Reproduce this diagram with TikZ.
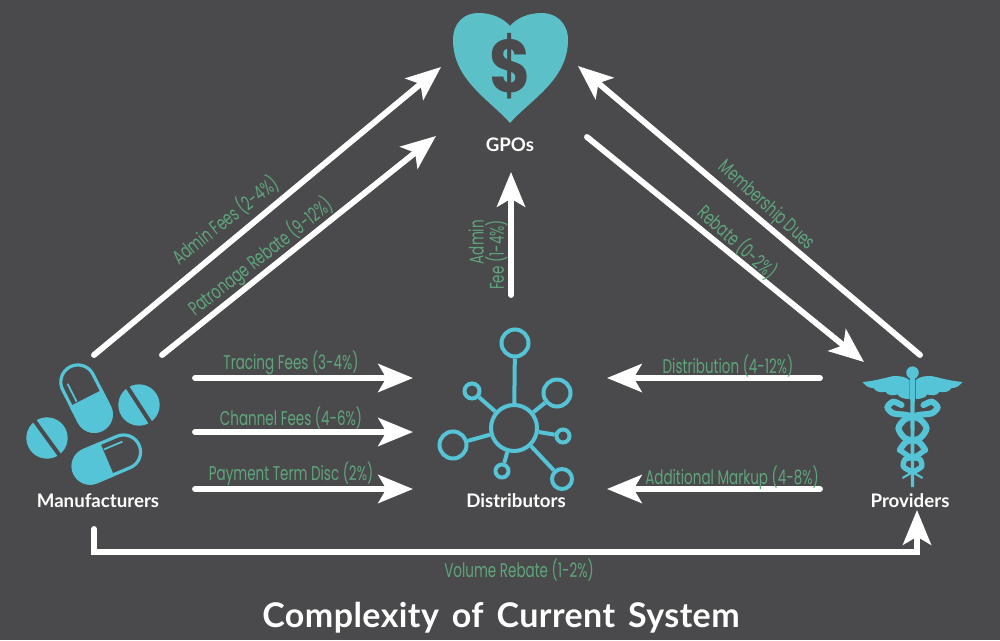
\documentclass[tikz,border=0pt]{standalone}
\usepackage{fontspec}
\setmainfont{Poppins}
\newfontfamily\headfont{Lato}
\newfontfamily\feefont[FakeStretch=0.68]{Poppins}
\newfontfamily\dollarfont[FakeStretch=0.85]{Poppins}
\newfontfamily\titlefont[LetterSpace=1.2,WordSpace=1.5]{Lato}
\usetikzlibrary{arrows.meta}
\usetikzlibrary{positioning}
\definecolor{slate}{HTML}{4A4A4C}
\definecolor{tealicon}{HTML}{55C4D6}
\definecolor{tealheart}{HTML}{5BC0C8}
\definecolor{feegreen}{HTML}{5FA57C}
\tikzstyle{flow} = [draw,white,line width=4.4pt,line cap=round,-{Stealth[length=26pt,width=21pt,inset=6pt]}]
\tikzstyle{fee} = [text=feegreen,font=\feefont\fontsize{14.9}{14}\selectfont,inner sep=0pt]
\tikzstyle{actor} = [text=white,font=\headfont\bfseries\fontsize{14}{14}\selectfont,inner sep=0pt]
\tikzstyle{hub} = [circle,draw=tealicon,line width=3pt,inner sep=0pt]
\tikzstyle{spoke} = [draw=tealicon,line width=3pt]
\newcommand{\capsule}[3]{%
  \begin{scope}[shift={(#1,#2)},rotate=#3]
    \draw[tealicon,line width=2.4pt,rounded corners=12.7pt] (-35,-17) rectangle (35,17);
    \begin{scope}
      \clip (0,-20) rectangle (40,20);
      \fill[tealicon,rounded corners=13.8pt] (-37,-18.5) rectangle (37,18.5);
    \end{scope}
    \draw[tealicon,line width=1.3pt] (-21,10) -- (-1,10);
  \end{scope}}
\newcommand{\tablet}[3]{%
  \begin{scope}[shift={(#1,#2)},rotate=#3]
    \fill[tealicon] (0,0) circle (15.5pt);
    \draw[slate,line width=3pt] (-24,0) -- (24,0);
  \end{scope}}
\begin{document}
\begin{tikzpicture}[x=0.75pt,y=-0.75pt]
    \fill[slate] (0,0) rectangle (1000,640);
    \useasboundingbox (0,0) rectangle (1000,640);

    % ends of the arrows
    \foreach \pos/\name in {{(94,355)/mfrA}, {(441,67)/gpoA}, {(162,355)/mfrB}, {(436,136)/gpoB},
        {(920,355)/provA}, {(578,66)/gpoC}, {(587,137)/gpoD}, {(864,362)/provB},
        {(511,295)/distA}, {(511,172)/gpoE},
        {(195,378)/mfrC}, {(413,378)/distB}, {(195,432)/mfrD}, {(413,432)/distC}, {(195,489)/mfrE}, {(413,489)/distD},
        {(820,378)/provC}, {(607,378)/distE}, {(820,489)/provD}, {(607,489)/distF},
        {(94,529)/mfrF}, {(917,510)/provE}, {(917,552)/bend}}
        \node[coordinate] (\name) at \pos {};

    \foreach \source/ \dest in {mfrA/gpoA, mfrB/gpoB, provA/gpoC, gpoD/provB, distA/gpoE,
        mfrC/distB, mfrD/distC, mfrE/distD, provC/distE, provD/distF}
        \path[flow] (\source) -- (\dest);
    \path[flow] (mfrF) |- (bend) -- (provE);

    % fee labels
    \foreach \pos/\rot/\label in {{(225,220)/38/Admin Fees (2-4\%)}, {(261,257)/38/Patronage Rebate (9-12\%)},
        {(766,206)/-42/Membership Dues}, {(738,242)/-42/Rebate (0-2\%)},
        {(291,363)/0/Tracing Fees (3-4\%)}, {(291,418)/0/Channel Fees (4-6\%)}, {(291,474)/0/Payment Term Disc (2\%)},
        {(728,366)/0/Distribution (4-12\%)}, {(732,478)/0/Additional Markup (4-8\%)}, {(519,570)/0/Volume Rebate (1-2\%)}}
        \node[fee,rotate=\rot] at \pos {\label};
    \node[fee,rotate=90,align=right] (adminfee) at (488,255) {Admin\\Fee (1-4\%)};

    % GPOs heart
    \fill[tealheart] (510,123) .. controls (490,100) and (453,80) .. (453,40)
        .. controls (453,22) and (465,13) .. (478,13) .. controls (492,13) and (503,18) .. (510,26)
        .. controls (517,18) and (528,13) .. (542,13) .. controls (555,13) and (568,22) .. (568,40)
        .. controls (568,80) and (530,100) .. (510,123) -- cycle;
    \node[text=slate,font=\dollarfont\bfseries\fontsize{56}{56}\selectfont,inner sep=0pt] (dollar) at (510,66) {\$};
    \node[actor] (gpos) at (510,145) {GPOs};

    % Distributors network
    \node[hub,minimum size=46*0.75pt] (dcore) at (514,428) {};
    \foreach \pos/\name/\size in {{(515,343)/dA/27}, {(557,393)/dB/27}, {(563,436)/dC/13}, {(562,479)/dD/20},
        {(502,471)/dE/13}, {(453,445)/dF/27}, {(472,391)/dG/15}}
        {
        \node[hub,minimum size=\size*0.75pt] (\name) at \pos {};
        \path[spoke] (dcore) -- (\name);
        }
    \node[actor] (distributors) at (516,501) {Distributors};

    % Manufacturers pills
    \capsule{86}{398}{-63}
    \capsule{107}{459}{203}
    \tablet{139}{405}{-57}
    \tablet{47}{438}{-54}
    \node[actor] (manufacturers) at (98,501) {Manufacturers};

    % Providers caduceus
    \fill[tealicon] (912.5,372.7) circle (4.7pt);
    \fill[tealicon] (910,372) -- (915,372) -- (914,487) -- (911,487) -- cycle;
    \foreach \sgn in {-1,1}
        {
        \fill[tealicon] (912.5+\sgn*3,380) .. controls (912.5+\sgn*8,376) and (912.5+\sgn*14,376) .. (912.5+\sgn*19,376)
            .. controls (912.5+\sgn*28,378) and (912.5+\sgn*38,381) .. (912.5+\sgn*50,382)
            .. controls (912.5+\sgn*46,387) and (912.5+\sgn*43,388) .. (912.5+\sgn*39,388)
            .. controls (912.5+\sgn*37,392) and (912.5+\sgn*31,393) .. (912.5+\sgn*27,391.7)
            .. controls (912.5+\sgn*25,396) and (912.5+\sgn*18,396) .. (912.5+\sgn*15,394.3)
            .. controls (912.5+\sgn*13,398) and (912.5+\sgn*8,399) .. (912.5+\sgn*3,399) -- cycle;
        \draw[tealicon,line width=4.6pt,line cap=round] plot[smooth] coordinates
            {(912.5+\sgn*11,405) (912.5+\sgn*19.3,401.7) (912.5+\sgn*25,407.3) (912.5+\sgn*19.3,413.3) (912.5+\sgn*6,415)
             (912.5-\sgn*7.3,419.3) (912.5-\sgn*14,428.3) (912.5-\sgn*7.3,438.3) (912.5+\sgn*6,441.7) (912.5+\sgn*12.7,450)};
        \draw[tealicon,line width=4pt] plot[smooth] coordinates
            {(912.5+\sgn*12.7,450) (912.5+\sgn*2.7,456.7) (912.5-\sgn*7.3,459.3) (912.5-\sgn*9,466.7) (912.5-\sgn*0.7,471.7)};
        \draw[tealicon,line width=1.6pt] (912.5-\sgn*0.7,471.7) -- (912.5+\sgn*10,478);
        }
    \node[actor] (providers) at (910,501) {Providers};

    \node[text=white,font=\titlefont\bfseries\fontsize{25.5}{26}\selectfont,inner sep=0pt] (title) at (501,618) {Complexity of Current System};
\end{tikzpicture}
\end{document}
